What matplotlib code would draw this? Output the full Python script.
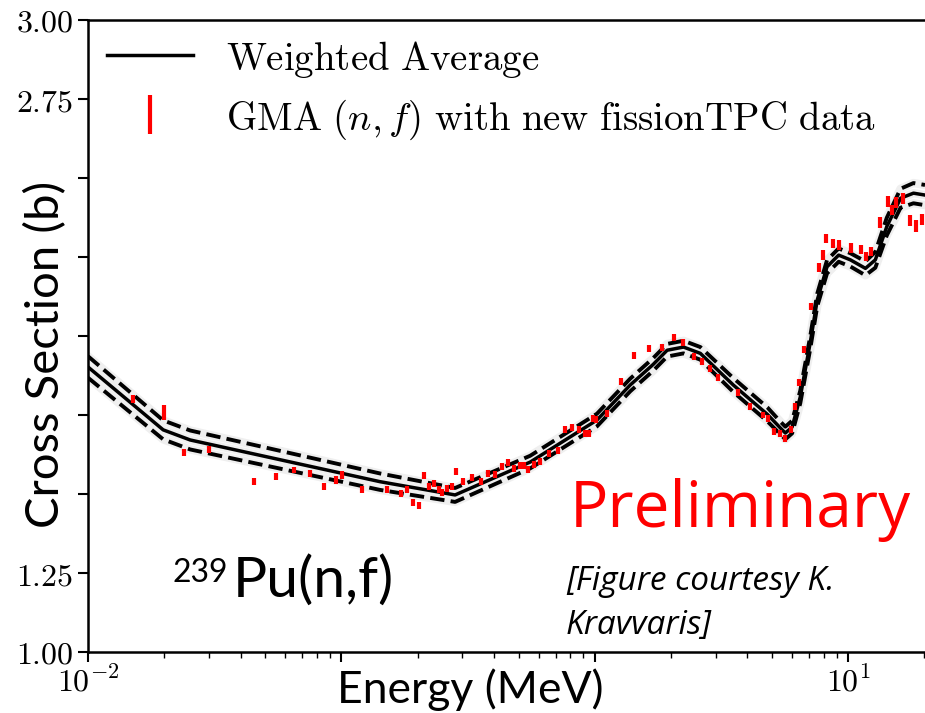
import numpy as np
import matplotlib.pyplot as plt

plt.rcParams['mathtext.fontset'] = 'cm'

# weighted average (MeV, barn) and its uncertainty
avg_E = [0.010, 0.0198, 0.0253, 0.142, 0.281, 0.556, 1.02, 1.38, 1.70, 1.93,
         2.24, 2.61, 3.52, 4.80, 5.40, 5.65, 6.01, 6.47, 7.08, 7.55,
         8.25, 9.17, 10.2, 11.7, 12.8, 14.2, 16.1, 18.1, 20.1]
avg_xs = [1.902, 1.703, 1.671, 1.539, 1.497, 1.601, 1.734, 1.845, 1.910, 1.955,
          1.965, 1.945, 1.845, 1.752, 1.709, 1.693, 1.712, 1.807, 1.978, 2.114,
          2.219, 2.256, 2.241, 2.214, 2.241, 2.346, 2.436, 2.452, 2.446]
avg_unc = [0.034, 0.030, 0.030, 0.026, 0.022, 0.020, 0.020, 0.020, 0.020, 0.020,
           0.020, 0.020, 0.022, 0.022, 0.020, 0.020, 0.020, 0.020, 0.020, 0.020,
           0.021, 0.021, 0.021, 0.022, 0.025, 0.028, 0.030, 0.032, 0.032]

# GMA evaluation points with new fissionTPC data
gma_E = [0.0150, 0.0200, 0.0240, 0.0301, 0.0450, 0.0552, 0.0652, 0.0752, 0.0855, 0.0953,
         0.1007, 0.121, 0.152, 0.1715, 0.182, 0.192, 0.202, 0.212, 0.222, 0.232,
         0.243, 0.249, 0.261, 0.273, 0.284, 0.303, 0.329, 0.355, 0.380, 0.405,
         0.431, 0.456, 0.482, 0.508, 0.528, 0.547, 0.578, 0.609, 0.662, 0.713,
         0.764, 0.812, 0.867, 0.916, 0.953, 0.980, 1.013, 1.122, 1.268, 1.431,
         1.630, 1.841, 2.046, 2.239, 2.453, 2.648, 2.855, 3.062, 3.673, 4.08,
         4.61, 4.82, 5.08, 5.40, 5.65, 5.96, 6.18, 6.40, 6.67, 7.15,
         7.69, 7.95, 8.19, 8.71, 9.22, 10.26, 11.27, 11.79, 12.30, 13.39,
         14.31, 14.89, 15.49, 16.40, 17.47, 18.53, 19.55]
gma_xs = [1.800, 1.757, 1.631, 1.641, 1.539, 1.554, 1.576, 1.566, 1.523, 1.544,
          1.560, 1.515, 1.515, 1.502, 1.515, 1.474, 1.465, 1.558, 1.525, 1.534,
          1.515, 1.506, 1.518, 1.523, 1.571, 1.539, 1.553, 1.539, 1.566, 1.563,
          1.586, 1.599, 1.581, 1.589, 1.589, 1.578, 1.592, 1.604, 1.629, 1.637,
          1.703, 1.711, 1.705, 1.692, 1.692, 1.740, 1.736, 1.755, 1.855, 1.938,
          1.959, 1.964, 1.996, 1.979, 1.934, 1.919, 1.898, 1.869, 1.822, 1.778,
          1.750, 1.740, 1.697, 1.690, 1.676, 1.705, 1.778, 1.852, 1.956, 2.093,
          2.217, 2.256, 2.309, 2.293, 2.288, 2.278, 2.274, 2.251, 2.267, 2.360,
          2.425, 2.399, 2.422, 2.436, 2.365, 2.348, 2.369]
gma_err = [0.013, 0.024, 0.011, 0.012, 0.011, 0.011, 0.011, 0.011, 0.011, 0.012,
           0.012, 0.011, 0.011, 0.011, 0.011, 0.011, 0.011, 0.011, 0.011, 0.011,
           0.011, 0.011, 0.011, 0.011, 0.011, 0.011, 0.011, 0.011, 0.011, 0.011,
           0.011, 0.011, 0.011, 0.011, 0.011, 0.011, 0.011, 0.011, 0.011, 0.011,
           0.011, 0.011, 0.011, 0.011, 0.011, 0.011, 0.011, 0.011, 0.011, 0.011,
           0.011, 0.011, 0.011, 0.011, 0.011, 0.011, 0.011, 0.011, 0.011, 0.011,
           0.011, 0.011, 0.011, 0.011, 0.011, 0.011, 0.011, 0.011, 0.011, 0.011,
           0.015, 0.015, 0.015, 0.015, 0.015, 0.015, 0.015, 0.015, 0.015, 0.017,
           0.017, 0.017, 0.017, 0.017, 0.018, 0.018, 0.018]

ytick_vals = [1.00, 1.25, 1.50, 1.75, 2.00, 2.25, 2.50, 2.75, 3.00]
ytick_txt = ['$1.00$', '$1.25$', '', '', '', '', '', '$2.75$', '$3.00$']
xtick_vals = [0.01, 0.1, 1, 10]
xtick_txt = ['$10^{-2}$', '', '', '$10^{1}$']

fig = plt.figure(figsize=(9.25, 7.13), dpi=100)
ax = fig.add_axes([88/925, 61/713, 837/925, 632/713])

avg_xs = np.array(avg_xs)
avg_unc = np.array(avg_unc)
# faint grey glow under the curves
for yy in [avg_xs + avg_unc, avg_xs - avg_unc, avg_xs]:
    ax.plot(avg_E, yy, '-', color='#efefef', lw=6, zorder=1)
ax.plot(avg_E, avg_xs + avg_unc, 'k--', lw=2.8, zorder=2)
ax.plot(avg_E, avg_xs - avg_unc, 'k--', lw=2.8, zorder=2)
ax.plot(avg_E, avg_xs, 'k-', lw=2.5, zorder=2, label='Weighted Average')
ax.errorbar(gma_E, gma_xs, yerr=gma_err, fmt='none', ecolor='red', elinewidth=3,
            zorder=3, label='GMA $(n,f)$ with new fissionTPC data')

ax.set_xscale('log')
ax.set_xlim(0.01, 20.1)
ax.set_ylim(1.0, 3.0)
ax.set_yticks(ytick_vals)
ax.set_yticklabels(ytick_txt)
ax.set_xticks(xtick_vals)
ax.set_xticklabels(xtick_txt)
ax.tick_params(labelsize=23, width=1.5, length=7)
ax.tick_params(which='minor', width=1, length=4)
ax.spines['right'].set_visible(False)
for s in ['left', 'bottom', 'top']:
    ax.spines[s].set_linewidth(1.8)

# legend in Computer Modern
h, l = ax.get_legend_handles_labels()
leg = ax.legend(h, [r'$\mathrm{Weighted\ Average}$',
                    r'$\mathrm{GMA}\ (n,f)\ \mathrm{with\ new\ fissionTPC\ data}$'],
                loc='upper left', frameon=False, fontsize=28, handlelength=2.2,
                handleheight=1.0, handletextpad=0.85, borderaxespad=0.1,
                labelspacing=0.45)

fig.text(46/925, 1 - 354/713, 'Cross Section (b)', family='Lato',
         fontsize=34, rotation=90, ha='center', va='center')
fig.text(470/925, 1 - 703/713, 'Energy (MeV)', family='Lato',
         fontsize=32, ha='center', va='baseline')
fig.text(740/925, 1 - 527/713, 'Preliminary', family='Open Sans', color='red',
         fontsize=46, ha='center', va='baseline')
fig.text(566/925, 1 - 590/713, '[Figure courtesy K.', family='Open Sans',
         style='italic', fontsize=24, ha='left', va='baseline')
fig.text(566/925, 1 - 634/713, 'Kravvaris]', family='Open Sans',
         style='italic', fontsize=24, ha='left', va='baseline')
fig.text(172/925, 1 - 582/713, '239', family='Lato', fontsize=23,
         ha='left', va='baseline')
fig.text(233/925, 1 - 597/713, 'Pu(n,f)', family='Lato', fontsize=41,
         ha='left', va='baseline')

fig.savefig('out.png', dpi=100)
